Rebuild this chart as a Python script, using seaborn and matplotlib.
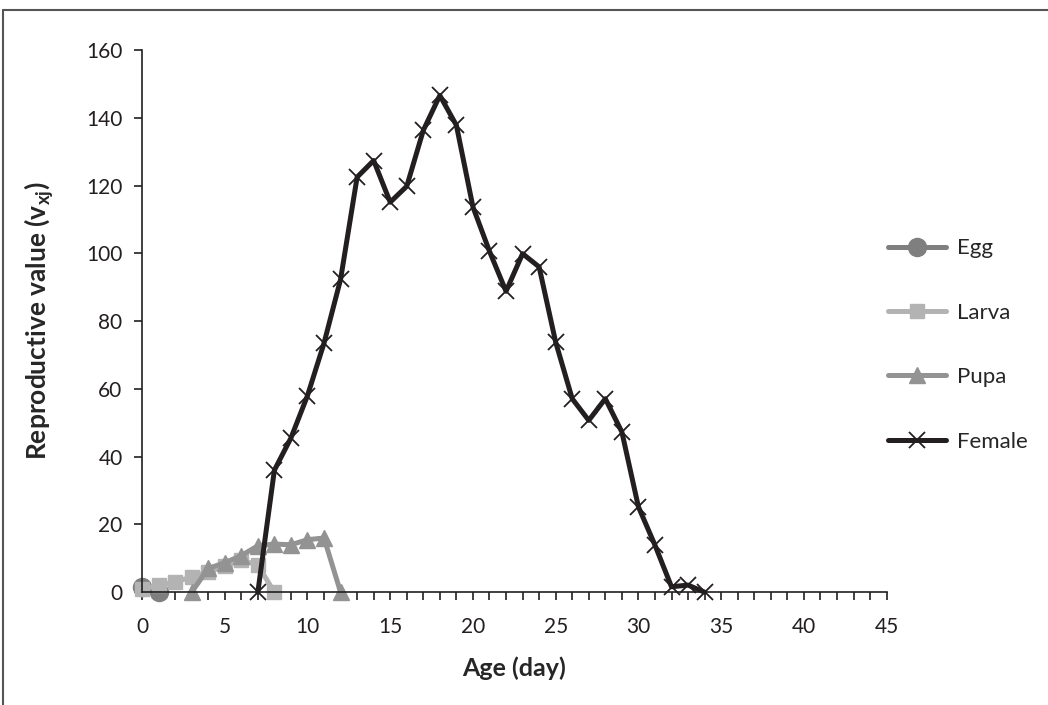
import numpy as np
import pandas as pd
import seaborn as sns
import matplotlib.pyplot as plt
from matplotlib.ticker import MultipleLocator
from matplotlib.lines import Line2D

# values
egg_age = [0, 1]
egg_v = [1.6, 0.0]

larva_age = [0, 1, 2, 3, 4, 5, 6, 7, 8]
larva_v = [0.8, 2.1, 3.0, 4.5, 6.0, 7.8, 9.5, 8.0, 0.0]

pupa_age = [3, 4, 5, 6, 7, 8, 9, 10, 11, 12]
pupa_v = [0.0, 7.0, 8.7, 10.8, 13.7, 14.2, 14.0, 15.5, 16.0, 0.0]

female_age = list(range(7, 35))
female_v = [0.0, 36.0, 45.5, 58.0, 73.5, 92.3, 122.5, 127.4, 115.1, 119.8,
            136.3, 146.6, 137.8, 113.7, 100.6, 88.8, 99.9, 96.0, 73.8, 57.1,
            50.7, 57.1, 47.3, 25.2, 13.9, 1.6, 2.1, 0.0]

sns.set_style("ticks")
plt.rcParams['font.family'] = ['Lato', 'DejaVu Sans']
plt.rcParams['mathtext.fontset'] = 'custom'
plt.rcParams['mathtext.rm'] = 'Lato'
plt.rcParams['mathtext.bf'] = 'Lato:bold'

series = [
    ("Egg", egg_age, egg_v, "#7f7f7f", "o", 13, 1.0),
    ("Larva", larva_age, larva_v, "#b3b3b3", "s", 10, 1.0),
    ("Pupa", pupa_age, pupa_v, "#939393", "^", 12, 1.0),
    ("Female", female_age, female_v, "#231f20", "x", 12, 1.3),
]

fig = plt.figure(figsize=(10.48, 7.05), dpi=100)
ax = fig.add_axes([0.1355, 0.160, 0.7105, 0.769])

handles = []
for name, xs, ys, col, mk, ms, mew in series:
    df = pd.DataFrame({"age": xs, "v": ys})
    sns.lineplot(data=df, x="age", y="v", ax=ax, color=col, linewidth=3.6,
                 marker=mk, markersize=ms, markeredgewidth=mew,
                 markeredgecolor=col, markerfacecolor=col, clip_on=False)
    handles.append(Line2D([], [], color=col, linewidth=3.6, marker=mk,
                          markersize=ms, markeredgewidth=mew,
                          markeredgecolor=col, markerfacecolor=col, label=name))

ax.set_xlim(0, 45)
ax.set_ylim(0, 160)
ax.xaxis.set_major_locator(MultipleLocator(5))
ax.xaxis.set_minor_locator(MultipleLocator(1))
ax.yaxis.set_major_locator(MultipleLocator(20))
ax.tick_params(axis='both', which='both', direction='out', length=6,
               width=1.2, color='#231f20', labelsize=15, labelcolor='#231f20')
ax.tick_params(axis='x', pad=12)
ax.tick_params(axis='y', pad=8)
for s in ['top', 'right']:
    ax.spines[s].set_visible(False)
for s in ['left', 'bottom']:
    ax.spines[s].set_color('#231f20')
    ax.spines[s].set_linewidth(1.2)

ax.set_xlabel("Age (day)", fontsize=18, fontweight='bold', labelpad=14)
ax.set_ylabel(r"Reproductive value (v$_\mathbf{xj}$)", fontsize=19,
              fontweight='bold', labelpad=22)

ax.legend(handles=handles, loc='center left', bbox_to_anchor=(0.99, 0.456),
          frameon=False, fontsize=16, handlelength=2.6, labelspacing=2.0,
          handletextpad=0.5, borderaxespad=0)

# outer frame (top and left edges of the original figure box)
fig.add_artist(Line2D([0.003, 1.0], [0.986, 0.986], color='#555555', lw=1.5,
                      transform=fig.transFigure))
fig.add_artist(Line2D([0.003, 0.003], [0.0, 0.986], color='#555555', lw=1.5,
                      transform=fig.transFigure))

fig.savefig("out.png", dpi=100)
